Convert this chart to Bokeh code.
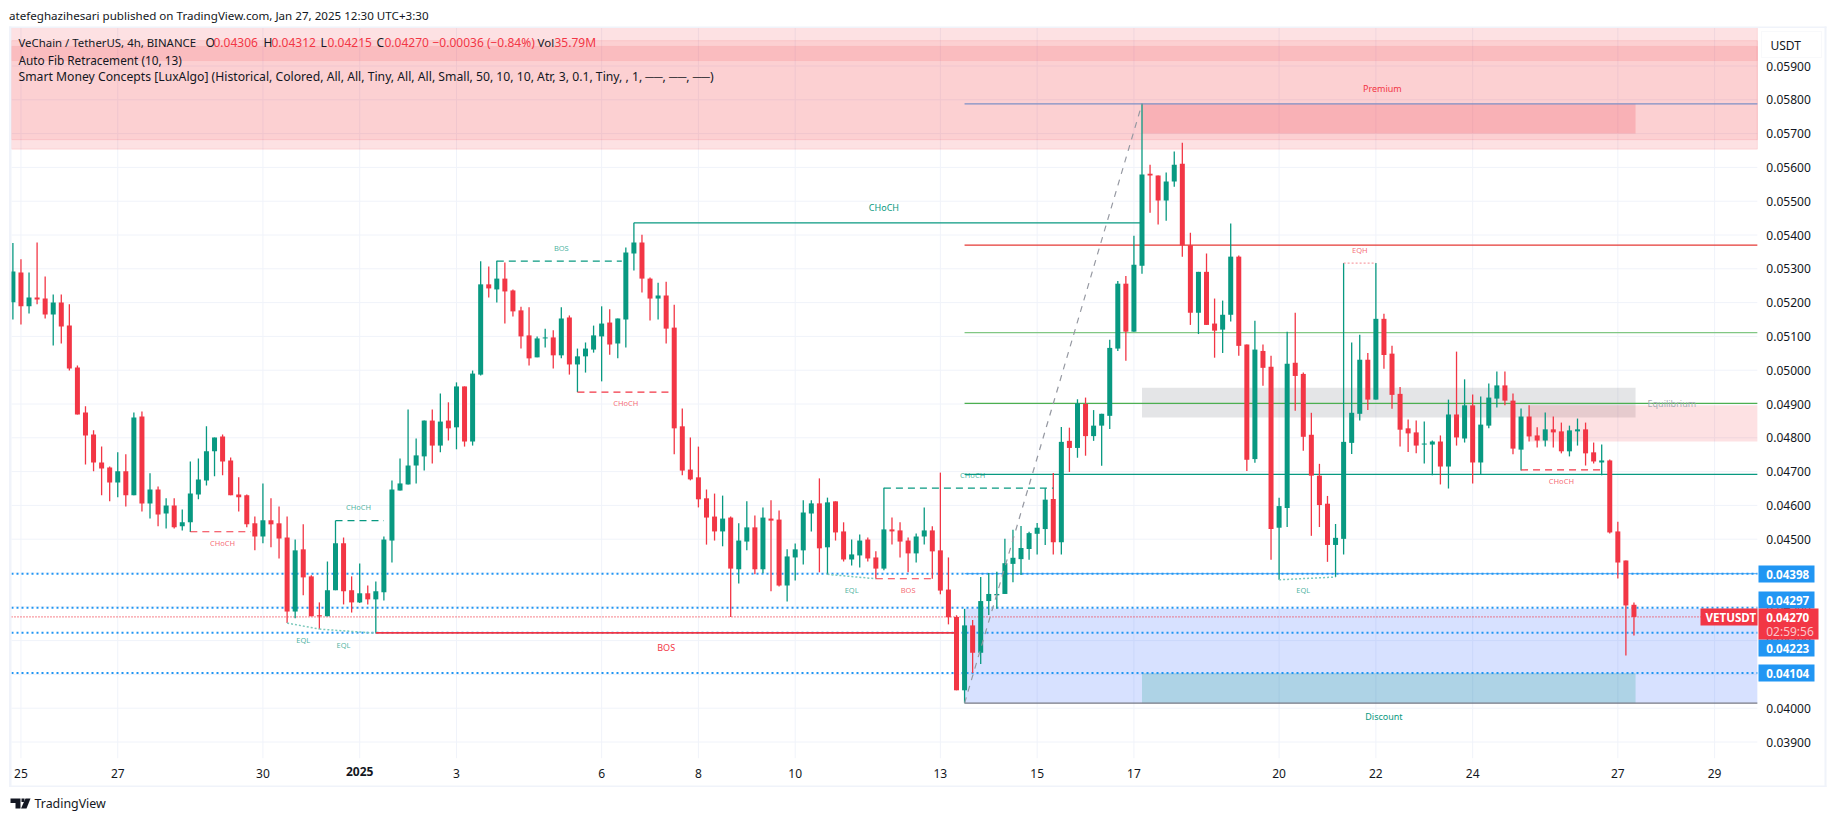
from bokeh.plotting import figure
from bokeh.models import (Range1d, FixedTicker, PrintfTickFormatter, Label, BoxAnnotation, PolyAnnotation,
                          ColumnDataSource, LinearAxis)
from bokeh.core.properties import value
from bokeh.embed import file_html
from bokeh.resources import INLINE
import numpy as np

# ---- prices in 1e-5 USDT (4h candles, VET/USDT) ----
direction = ("GRGRRGRRRR" "RRRGRGRGRG" "RGGGGGRRRR" "RGRRRGRRRG" "GRRGRGGGGG" "GGRGRGRGGR"
             "GRRRRGGRGR" "GGGGRGGGRR" "GRRRRRRRGR" "GGRGRRGGGG" "RGRRGGRRGR" "RRGGRRRRGR"
             "GGGGGGGGGR" "GRGRGGGGRG" "GRRGGRRGRR" "GGRRGRRGGR" "RRRRGGGGRG" "RRRRRGGRGR"
             "GRGGGRRGRR" "GRRGGRRGRR" "RR")
high = [5376,5328,5289,5378,5277,5224,5224,5195,5014,4893,
 4822,4774,4715,4757,4751,4875,4878,4695,4656,4621,
 4621,4588,4730,4739,4834,4801,4810,4742,4683,4632,
 4567,4665,4621,4597,4567,4499,4544,4393,4313,4434,
 4555,4505,4390,4428,4363,4375,4508,4674,4739,4884,
 4798,4851,4884,4931,4905,4964,4952,4999,
 5322,5307,5324,5319,5239,5188,5186,5100,5123,5118,5186,5162,5064,5082,5132,5189,5180,5153,5363,5436,5401,5274,5259,5262,5194,4887,4801,4774,4647,4635,4629,4567,4547,4612,4570,4594,4615,4585,4470,4487,4615,4615,4680,4623,4612,4550,4499,4514,4505,4464,4652,4564,4550,4505,4517,4594,4538,4697,4446,
 4275,4294,4261,4388,4400,4404,4501,4528,4539,4522,4548,4651,4696,4832,4830,4914,4919,4882,4871,5090,5264,5279,5398,5788,5608,5576,5585,5647,5673,5407,5291,5345,5212,5206,5434,5339,5076,5146,5076,5043,4623,5114,5170,4993,4874,4723,4628,4545,5317,5082,5105,5051,5317,5167,5072,4950,
 4854,4851,4848,4792,4807,4913,5055,4973,4928,4922,4961,4996,4996,4931,4887,4896,4831,4875,4863,4845,4836,4857,4845,4786,4780,4736,4552,4437,4313]
body_top = [5292,5289,5215,5215,5212,5200,5200,5132,5008,4875,
 4810,4727,4712,4701,4701,4860,4863,4647,4647,4600,
 4600,4550,4635,4677,4760,4801,4804,4733,4632,4630,
 4547,4556,4556,4547,4505,4467,4470,4390,4275,4349,
 4488,4488,4349,4340,4340,4346,4499,4647,4665,4718,
 4748,4851,4851,4848,4851,4952,4952,4990,
 5254,5254,5271,5271,5236,5177,5103,5094,5097,5097,5153,5156,5041,5064,5103,5138,5141,5153,5348,5378,5378,5271,5221,5221,5126,4834,4706,4683,4621,4567,4561,4564,4496,4535,4535,4564,4561,4558,4449,4470,4579,4606,4606,4609,4612,4523,4455,4496,4499,4446,4529,4529,4526,4496,4508,4526,4526,4467,4351,
 4270,4245,4245,4317,4338,4338,4429,4445,4474,4518,4534,4617,4619,4788,4791,4902,4900,4836,4871,5066,5256,5256,5312,5579,5581,5576,5558,5608,5611,5370,5291,5291,5138,5164,5336,5336,5076,5061,5057,5010,4598,5019,5022,4989,4809,4688,4605,4504,4788,4874,5031,5031,5152,5152,5049,4930,
 4828,4816,4783,4789,4789,4869,4869,4896,4896,4839,4919,4955,4955,4910,4863,4863,4807,4825,4825,4819,4822,4825,4825,4757,4733,4733,4523,4437,4306]
body_bot = [5201,5189,5189,5209,5165,5165,5129,5005,4869,4807,
 4727,4709,4668,4668,4630,4630,4606,4606,4573,4576,
 4535,4538,4550,4632,4674,4760,4730,4630,4624,4544,
 4508,4508,4544,4502,4286,4286,4387,4272,4272,4272,
 4349,4346,4313,4313,4322,4322,4343,4496,4644,4662,
 4718,4745,4777,4777,4828,4831,4789,4789,
 4987,5242,5239,5233,5174,5100,5035,5038,5094,5044,5044,5017,5017,5041,5061,5100,5076,5079,5150,5345,5271,5212,5212,5123,4828,4703,4677,4618,4564,4523,4523,4413,4411,4493,4411,4411,4555,4363,4363,4446,4467,4576,4473,4476,4520,4440,4440,4452,4443,4413,4413,4523,4493,4458,4458,4508,4464,4348,4269,
 4053,4053,4164,4164,4317,4334,4338,4427,4441,4471,4516,4530,4491,4491,4770,4770,4805,4805,4836,4865,5064,5114,5114,5309,5576,5502,5502,5558,5370,5170,5170,5134,5117,5120,5164,5072,4735,4737,5007,4530,4534,4592,4983,4803,4688,4601,4483,4483,4501,4785,4871,4913,4913,5045,4927,4824,
 4813,4777,4780,4780,4715,4715,4801,4798,4727,4727,4836,4916,4910,4768,4765,4804,4792,4792,4816,4760,4760,4819,4754,4730,4727,4520,4431,4304,4270]
low = [5150,5135,5168,5195,5153,5073,5079,4999,4869,4721,
 4701,4630,4612,4624,4597,4630,4582,4561,4538,4532,
 4532,4526,4521,4618,4659,4686,4689,4630,4582,4535,
 4467,4488,4476,4443,4252,4266,4334,4272,4234,4272,
 4349,4307,4283,4311,4307,4222,4319,4431,4644,4662,
 4665,4703,4724,4757,4792,4766,4774,4777,
 4984,5215,5200,5138,5159,5064,5014,5038,5067,5005,5035,4987,4935,4993,5052,4967,5046,5035,5067,5295,5230,5147,5150,5079,4751,4689,4674,4594,4484,4496,4479,4270,4369,4467,4396,4399,4346,4360,4316,4378,4425,4523,4402,4396,4496,4434,4422,4416,4434,4383,4408,4484,4446,4402,4431,4484,4383,4337,4248,
 4053,4015,4104,4131,4276,4294,4338,4373,4394,4439,4455,4483,4455,4455,4699,4741,4747,4791,4717,4826,5057,5028,5114,5285,5466,5431,5442,5543,5336,5134,5107,5134,5037,5051,5144,5043,4702,4726,4954,4439,4380,4536,4880,4762,4510,4536,4433,4388,4455,4752,4851,4882,4913,5004,4886,4774,
 4758,4754,4724,4689,4662,4650,4777,4786,4665,4692,4828,4890,4896,4751,4703,4789,4771,4774,4771,4754,4745,4777,4718,4724,4689,4517,4384,4156,4215]

tick_bars = [1,13,31,43,55,73,85,97,115,127,139,157,169,181,199,211]
tick_labels = ["25","27","30"," ","3","6","8","10","13","15","17","20","22","24","27","29"]
price_ticks = [3900+100*i for i in range(21)]

# pane edges as bar number / price
BAR_L, BAR_R = -0.174, 216.3
P_TOP, P_BOT = 6014, 3852
# zones: (left bar, right bar, top, bottom, colour, fill alpha, border alpha)
zones = [
 (BAR_L,BAR_R,6014,5654,"#F23645",.15,.12),
 (BAR_L,BAR_R,5975,5682,"#F23645",.10,.12),
 (BAR_L,BAR_R,5958,5916,"#F23645",.13,.08),
 (118,BAR_R,4295,4015,"#2962FF",.19,0),
 (140,201.2,5788,5700,"#F23645",.2,0),
 (140,201.2,4948,4860,"#787B86",.2,0),
 (140,201.2,4104,4015,"#089981",.2,0),
 (188.1,BAR_R,4896,4789,"#F23645",.15,0),
]
fib_levels = [5788,5370,5111,4902,4692,4398,4015]
fib_colors = ["#7E90C6","#E53935","#81C784","#4CAF50","#089981","#64B5F6","#787B86"]
levels_dotted = [4398,4297,4223,4104]
last_close = 4270

dash_teal = [(40,46,4555),(60,75.5,5323),(108,129,4651)]
dash_red = [(22,29.5,4522),(70,82,4935),(107,114,4383),(187,197.2,4705)]
eql = [(34,38,4252,4234),(38,45,4234,4222),(101,107,4396,4383),(157,164,4380,4388)]

tiny_labels = [("CHoCH",26,4489,"r"),("CHoCH",42.85,4594,"t"),("EQL",36,4203,"t"),("EQL",41,4188,"t"),
               ("BOS",68,5362,"t"),("CHoCH",76,4902,"r"),("EQL",104,4349,"t"),("BOS",111,4350,"r"),
               ("CHoCH",119,4690,"t"),("EQL",160,4351,"t"),("EQH",167,5356,"r"),("CHoCH",192,4673,"r")]
big_labels = [("CHoCH",108,5481,"#089981"),("BOS",81,4180,"#F23645"),("Premium",169.8,5834,"#F23645"),
              ("Discount",170,3975,"#089981"),("Equilibrium",205.7,4902,"#A8ABB5")]

GREEN, RED = "#089981", "#F23645"
FONT = "Noto Sans"
S = 1e-5
W, H = 1835, 821

# the frame is the whole canvas; the pane is a part of it and the two axes are fixed at its edges
p = figure(width=W, height=H, output_backend="svg", toolbar_location=None,
           x_range=Range1d(-1.5375, 225.99), y_range=Range1d(3664.8*S, 6093.8*S),
           x_axis_location=None, y_axis_location=None, min_border=0, outline_line_color=None,
           background_fill_color="white", border_fill_color="white")
p.grid.visible = False

yax = LinearAxis(fixed_location=BAR_R, ticker=FixedTicker(ticks=[v*S for v in price_ticks]),
                 formatter=PrintfTickFormatter(format="%.5f"), major_label_standoff=9)
xax = LinearAxis(fixed_location=P_BOT*S, ticker=FixedTicker(ticks=tick_bars),
                 major_label_overrides=dict(zip(tick_bars, tick_labels)), major_label_standoff=7)
for ax in (xax, yax):
    ax.axis_line_color = None
    ax.major_tick_line_color = None
    ax.minor_tick_line_color = None
    ax.major_tick_in = 0
    ax.major_tick_out = 0
    ax.major_label_text_color = "#131722"
    ax.major_label_text_font = FONT
    ax.major_label_text_font_size = "12px"
p.add_layout(yax, "right")
p.add_layout(xax, "below")

# grid, confined to the pane
GRID = "#F0F3FA"
for v in price_ticks:
    p.segment(x0=BAR_L, x1=BAR_R, y0=v*S, y1=v*S, line_color=GRID, line_width=1)
for b in tick_bars:
    p.segment(x0=b, x1=b, y0=P_BOT*S, y1=P_TOP*S, line_color=GRID, line_width=1)

for l, r, t, b, c, a, la in zones:
    p.quad(left=l, right=r, top=t*S, bottom=b*S, fill_color=c, fill_alpha=a, line_color=c, line_alpha=la, line_width=1)

# fib + horizontal levels (beneath the candles)
for lv, c in zip(fib_levels, fib_colors):
    p.segment(x0=118, x1=BAR_R, y0=lv*S, y1=lv*S, line_color=c, line_width=1.3)
for lv in levels_dotted:
    p.segment(x0=BAR_L, x1=BAR_R, y0=lv*S, y1=lv*S, line_color="#2196F3", line_width=2, line_dash="2 3")
p.segment(x0=BAR_L, x1=BAR_R, y0=last_close*S, y1=last_close*S, line_color=RED, line_width=1.3, line_dash="1 2")

x = np.arange(len(high))
cols = [GREEN if d == "G" else RED for d in direction]
src = ColumnDataSource(dict(x=x, hi=np.array(high)*S, lo=np.array(low)*S, t=np.array(body_top)*S,
                            b=np.array(body_bot)*S, c=cols))
p.segment(x0="x", x1="x", y0="lo", y1="hi", line_color="c", line_width=1.3, source=src)
p.vbar(x="x", width=0.62, top="t", bottom="b", fill_color="c", line_color=None, source=src)

# structure lines
for (x0, x1, y) in dash_teal:
    p.segment(x0=x0, x1=x1, y0=y*S, y1=y*S, line_color=GREEN, line_width=1.2, line_dash="7 5")
for (x0, x1, y) in dash_red:
    p.segment(x0=x0, x1=x1, y0=y*S, y1=y*S, line_color=RED, line_width=1.2, line_dash="7 5")
p.segment(x0=77, x1=140, y0=5436*S, y1=5436*S, line_color=GREEN, line_width=1.4)
p.segment(x0=45, x1=117, y0=4223*S, y1=4223*S, line_color=RED, line_width=1.6)
for (x0, x1, y0, y1) in eql:
    p.segment(x0=x0, x1=x1, y0=y0*S, y1=y1*S, line_color="#7CC9BC", line_width=1.5, line_dash="2 2")
p.segment(x0=165, x1=169, y0=5317*S, y1=5317*S, line_color="#F7A0A8", line_width=1.2, line_dash="2 2")
p.segment(x0=118, x1=140, y0=4015*S, y1=5788*S, line_color="#9598A1", line_width=1.2, line_dash="6 6")

for txt, xx, yy, kind in tiny_labels:
    p.text(x=[xx], y=[yy*S], text=[txt], text_align="center", text_baseline="middle",
           text_font=value(FONT), text_font_size="7.5px", text_color=GREEN if kind == "t" else RED, text_alpha=.75)
for txt, xx, yy, c in big_labels:
    p.text(x=[xx], y=[yy*S], text=[txt], text_align="center", text_baseline="middle",
           text_font=value(FONT), text_font_size="9px", text_color=c)


def lab(X, Y, txt, color="#131722", size="12px", weight="normal", align="left"):
    p.add_layout(Label(x=X, y=H-Y, x_units="screen", y_units="screen", text=txt, text_color=color,
                       text_font=FONT, text_font_size=size, text_font_style=weight, text_align=align,
                       text_baseline="middle", level="overlay"))


def box(l, t, r, b, fill, line=None):
    p.add_layout(BoxAnnotation(left=l, right=r, top=H-t, bottom=H-b, left_units="screen", right_units="screen",
                               top_units="screen", bottom_units="screen", fill_color=fill, fill_alpha=1,
                               line_color=line, level="overlay"))


def poly(pts, fill):
    p.add_layout(PolyAnnotation(xs=[a for a, b in pts], ys=[H-b for a, b in pts], xs_units="screen", ys_units="screen",
                                fill_color=fill, fill_alpha=1, line_color=None, level="overlay"))


# page furniture
lab(8.5, 15, "atefeghazihesari published on TradingView.com, Jan 27, 2025 12:30 UTC+3:30", size="11.6px")
for a in [(8.5, 26, 11, 786.5), (8.5, 26, 1826, 27.5), (1824, 26, 1826, 786.5), (8.5, 785, 1826, 786.5)]:
    box(a[0], a[1], a[2], a[3], "#F0F3FA")

# legend
lab(18, 41.7, "VeChain / TetherUS, 4h, BINANCE", size="11.4px")
for X, t1, X2, t2 in [(205, "O", 213, "0.04306"), (263, "H", 271, "0.04312"), (320, "L", 327, "0.04215"), (376, "C", 384, "0.04270")]:
    lab(X, 41.7, t1)
    lab(X2, 41.7, t2, RED)
lab(432, 41.7, "−0.00036 (−0.84%)", RED)
lab(537, 41.7, "Vol", size="11.5px")
lab(554, 41.7, "35.79M", RED)
lab(18, 59, "Auto Fib Retracement (10, 13)", size="11.8px")
lab(18, 76, "Smart Money Concepts [LuxAlgo] (Historical, Colored, All, All, Tiny, All, All, Small, 50, 10, 10, Atr, 3, 0.1, Tiny, , 1, ──, ──, ──)", size="12.2px")

# price scale tags
box(1761, 31, 1821, 57, "white", "#E9ECF2")
lab(1770, 44.5, "USDT")
for (t, b, txt) in [(565, 582, "0.04398"), (591, 608, "0.04297"), (639, 656, "0.04223"), (664, 681, "0.04104")]:
    box(1758, t, 1814, b, "#2196F3")
    lab(1765.7, (t+b)/2, txt, "white", weight="bold", size="11.6px")
box(1758, 608, 1818, 639, RED)
lab(1765.7, 616.7, "0.04270", "white", weight="bold", size="11.6px")
lab(1765.7, 631, "02:59:56", "#FBC4C8")
box(1700, 608, 1757, 625, RED)
lab(1705, 616.7, "VETUSDT", "white", weight="bold", size="11.6px")

# 2025 tick label (bold), logo
lab(359.2, 771, "2025", weight="bold", align="center")
poly([(10, 798), (20, 798), (20, 808), (15, 808), (15, 802.5), (10, 802.5)], "#131722")
poly([(25, 798), (30, 798), (26, 808), (20.5, 808)], "#131722")
box(21, 798, 24, 801.5, "#131722")
lab(34, 803, "TradingView", size="12.4px")

open("out.html", "w").write(file_html(p, INLINE))
